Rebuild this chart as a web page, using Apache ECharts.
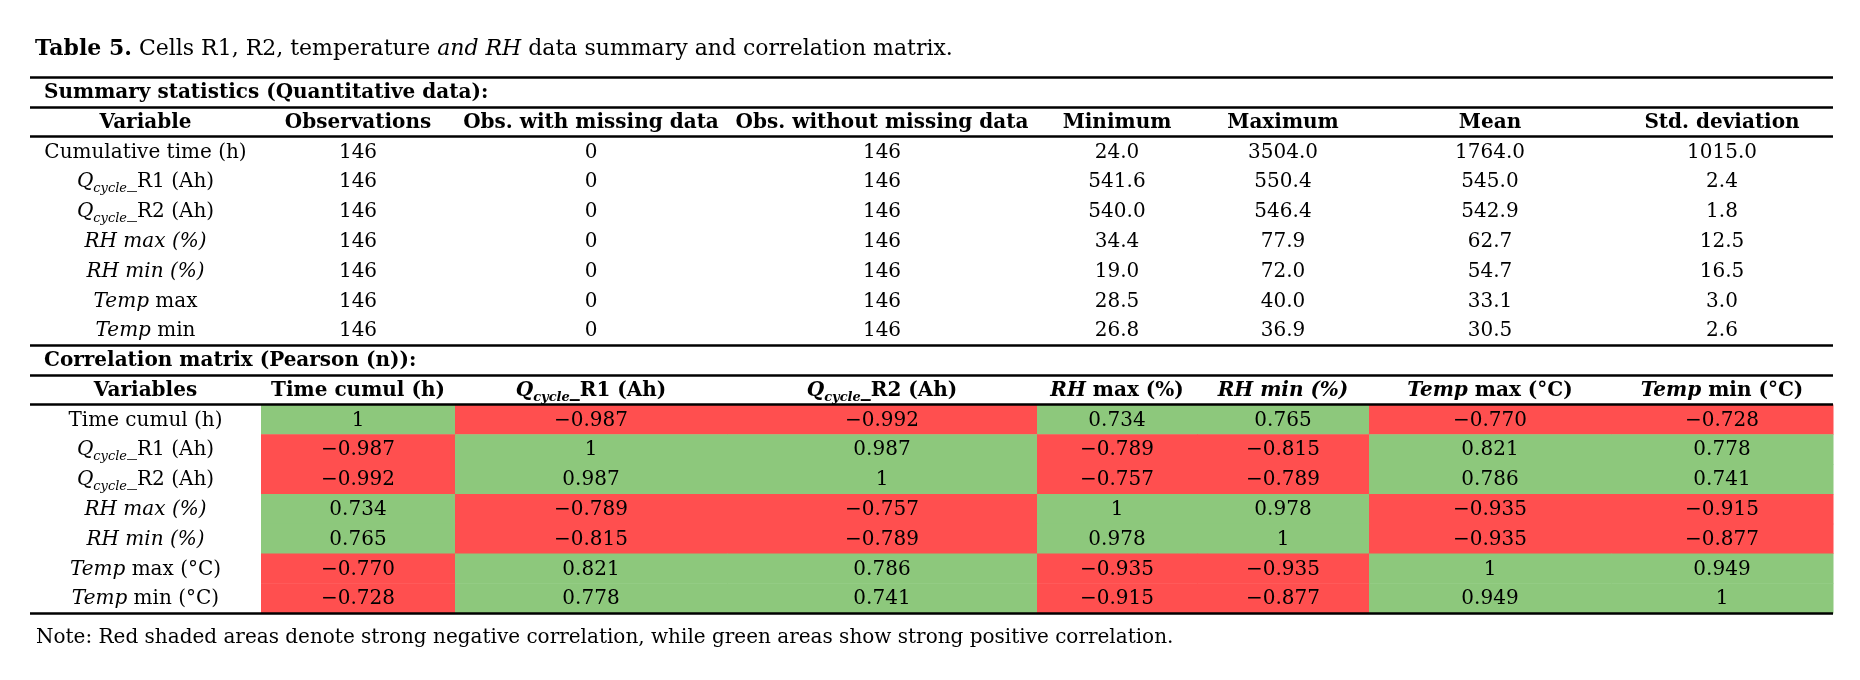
<!DOCTYPE html>
<html>
<head>
<meta charset="utf-8">
<title>Table 5</title>
<script src="https://cdn.jsdelivr.net/npm/echarts@6/dist/echarts.min.js"></script>
<style>
  html, body { margin: 0; padding: 0; background: #fff; }
  #main { width: 1860px; height: 680px; }
</style>
</head>
<body>
<div id="main"></div>
<script>
  // summary statistics
  var summaryHeaders = ['Variable', 'Observations', 'Obs. with missing data', 'Obs. without missing data',
    'Minimum', 'Maximum', 'Mean', 'Std. deviation'];
  var summaryVars = ['Cumulative time (h)', 'Qcycle_R1 (Ah)', 'Qcycle_R2 (Ah)', 'RH max (%)',
    'RH min (%)', 'Temp max', 'Temp min'];
  var observations = [146, 146, 146, 146, 146, 146, 146];
  var obsMissing = [0, 0, 0, 0, 0, 0, 0];
  var obsWithout = [146, 146, 146, 146, 146, 146, 146];
  var minimum = [24.0, 541.6, 540.0, 34.4, 19.0, 28.5, 26.8];
  var maximum = [3504.0, 550.4, 546.4, 77.9, 72.0, 40.0, 36.9];
  var mean = [1764.0, 545.0, 542.9, 62.7, 54.7, 33.1, 30.5];
  var stdDev = [1015.0, 2.4, 1.8, 12.5, 16.5, 3.0, 2.6];

  // correlation matrix (Pearson)
  var corrVars = ['Time cumul (h)', 'Qcycle_R1 (Ah)', 'Qcycle_R2 (Ah)', 'RH max (%)',
    'RH min (%)', 'Temp max (°C)', 'Temp min (°C)'];
  var corrMatrix = [
    [1, -0.987, -0.992, 0.734, 0.765, -0.770, -0.728],
    [-0.987, 1, 0.987, -0.789, -0.815, 0.821, 0.778],
    [-0.992, 0.987, 1, -0.757, -0.789, 0.786, 0.741],
    [0.734, -0.789, -0.757, 1, 0.978, -0.935, -0.915],
    [0.765, -0.815, -0.789, 0.978, 1, -0.935, -0.877],
    [-0.770, 0.821, 0.786, -0.935, -0.935, 1, 0.949],
    [-0.728, 0.778, 0.741, -0.915, -0.877, 0.949, 1]
  ];

  var FONT = 'DejaVu Serif';
  var SIZE = 20;
  // column boundaries on the x axis (table is 1803 units wide)
  var colEdges = [0, 231, 425, 697, 1007, 1167, 1339, 1581, 1803];

  var rich = {
    n: {}, i: { fontStyle: 'italic' },
    s: { fontStyle: 'italic', fontSize: 13, lineHeight: 14, verticalAlign: 'bottom' },
    bn: { fontWeight: 'bold' }, bi: { fontWeight: 'bold', fontStyle: 'italic' },
    bs: { fontWeight: 'bold', fontStyle: 'italic', fontSize: 13, lineHeight: 14, verticalAlign: 'bottom' }
  };
  ['n', 'i', 'bn', 'bi'].forEach(function (k) {
    rich[k].fontSize = SIZE; rich[k].lineHeight = 26; rich[k].fontFamily = FONT;
  });
  rich.s.fontFamily = FONT; rich.bs.fontFamily = FONT;

  // italic parts: Q_cycle, Temp, RH (whole label italic when allItalic)
  function label(name, bold, allItalic) {
    var p = bold ? 'b' : '';
    if (name.indexOf('Qcycle') === 0) {
      return '{' + p + 'i|Q}{' + p + 's|cycle}{' + p + 'n|' + name.slice(6) + '}';
    }
    if (allItalic) return '{' + p + 'i|' + name + '}';
    if (name.indexOf('Temp') === 0 || name.indexOf('RH') === 0) {
      var w = name.split(' ')[0];
      return '{' + p + 'i|' + w + '}{' + p + 'n|' + name.slice(w.length) + '}';
    }
    return '{' + p + 'n|' + name + '}';
  }

  // text cells of the table
  var cells = [];
  function addCell(col, row, text, left) {
    cells.push({ col: col, row: row, text: text, left: !!left });
  }
  addCell(0, 0, '{bn|Summary statistics (Quantitative data):}', true);
  summaryHeaders.forEach(function (h, c) { addCell(c, 1, label(h, true, false)); });
  summaryVars.forEach(function (v, i) {
    var r = 2 + i;
    addCell(0, r, label(v, false, v.indexOf('RH') === 0));
    addCell(1, r, '{n|' + observations[i] + '}');
    addCell(2, r, '{n|' + obsMissing[i] + '}');
    addCell(3, r, '{n|' + obsWithout[i] + '}');
    addCell(4, r, '{n|' + minimum[i].toFixed(1) + '}');
    addCell(5, r, '{n|' + maximum[i].toFixed(1) + '}');
    addCell(6, r, '{n|' + mean[i].toFixed(1) + '}');
    addCell(7, r, '{n|' + stdDev[i].toFixed(1) + '}');
  });
  addCell(0, 9, '{bn|Correlation matrix (Pearson (n)):}', true);
  addCell(0, 10, label('Variables', true, false));
  corrVars.forEach(function (v, j) {
    addCell(j + 1, 10, label(v, true, v.indexOf('RH min') === 0));
    addCell(0, 11 + j, label(v, false, v.indexOf('RH') === 0));
  });

  var corrData = [];
  corrMatrix.forEach(function (row, i) {
    row.forEach(function (v, j) { corrData.push([j + 1, 11 + i, v]); });
  });

  function fmtCorr(v) {
    if (v === 1) return '1';
    return (v < 0 ? '\u2212' : '') + Math.abs(v).toFixed(3);
  }

  var chart = echarts.init(document.getElementById('main'));
  var option = {
    animation: false,
    backgroundColor: '#fff',
    title: [{
      left: 30, top: 33,
      text: '{b|Table 5.}{n| Cells R1, R2, temperature }{i|and RH}{n| data summary and correlation matrix.}',
      textStyle: {
        fontWeight: 'normal',
        rich: {
          b: { fontFamily: FONT, fontSize: 22, fontWeight: 'bold', color: '#000' },
          n: { fontFamily: FONT, fontSize: 22, fontWeight: 'normal', color: '#000' },
          i: { fontFamily: FONT, fontSize: 22, fontWeight: 'normal', fontStyle: 'italic', color: '#000' }
        }
      }
    }, {
      left: 31, top: 623,
      text: 'Note: Red shaded areas denote strong negative correlation, while green areas show strong positive correlation.',
      textStyle: { fontFamily: FONT, fontSize: SIZE, fontWeight: 'normal', color: '#000' }
    }],
    grid: { left: 30, right: 27, top: 77, bottom: 67 },
    xAxis: { type: 'value', min: 0, max: 1803, show: false },
    yAxis: { type: 'value', min: 0, max: 18, inverse: true, show: false },
    visualMap: {
      show: false, type: 'piecewise', seriesIndex: 1, dimension: 2,
      pieces: [{ lt: 0, color: '#ff4f4f' }, { gte: 0, color: '#8dc87c' }]
    },
    series: [{
      type: 'custom',
      name: 'text',
      z: 4,
      data: cells.map(function (c) {
        return [c.left ? colEdges[c.col] : (colEdges[c.col] + colEdges[c.col + 1]) / 2, c.row + 0.5];
      }),
      renderItem: function (params, api) {
        var c = cells[params.dataIndex];
        var p = api.coord([api.value(0), api.value(1)]);
        return {
          type: 'text',
          x: p[0] + (c.left ? 14 : 0), y: p[1] + 1,
          style: {
            text: c.text, rich: rich, fill: '#000',
            fontFamily: FONT, fontSize: SIZE,
            align: c.left ? 'left' : 'center', verticalAlign: 'middle'
          }
        };
      }
    }, {
      type: 'custom',
      name: 'correlation',
      z: 2,
      data: corrData,
      renderItem: function (params, api) {
        var c = api.value(0), r = api.value(1), v = api.value(2);
        var p0 = api.coord([colEdges[c], r]);
        var p1 = api.coord([colEdges[c + 1], r + 1]);
        return {
          type: 'group',
          children: [{
            type: 'rect',
            shape: { x: p0[0], y: p0[1], width: p1[0] - p0[0] + 0.5, height: p1[1] - p0[1] + 0.5 },
            style: { fill: api.visual('color') }
          }, {
            type: 'text',
            x: (p0[0] + p1[0]) / 2, y: (p0[1] + p1[1]) / 2 + 1,
            style: {
              text: fmtCorr(v), fill: '#000', fontFamily: FONT, fontSize: SIZE,
              align: 'center', verticalAlign: 'middle'
            }
          }]
        };
      }
    }, {
      type: 'line',
      name: 'rules',
      z: 6,
      data: [[0, 0]],
      showSymbol: false,
      lineStyle: { opacity: 0 },
      markLine: {
        silent: true,
        symbol: ['none', 'none'],
        label: { show: false },
        lineStyle: { color: '#000', width: 2.5, type: 'solid' },
        data: [{ yAxis: 0 }, { yAxis: 1 }, { yAxis: 2 }, { yAxis: 9 }, { yAxis: 10 }, { yAxis: 11 }, { yAxis: 18 }]
      }
    }]
  };
  chart.setOption(option);
  window.onresize = function () {
    chart.resize();
  };
</script>
</body>
</html>
